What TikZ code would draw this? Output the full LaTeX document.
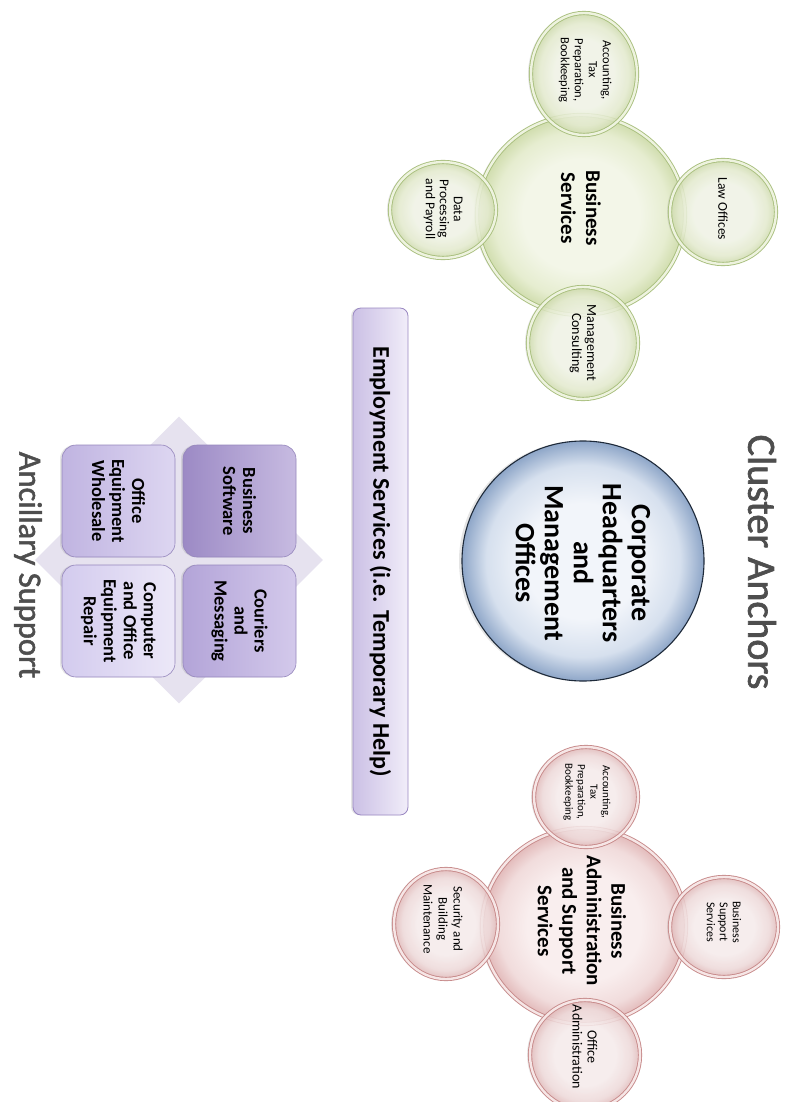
\documentclass[tikz,border=0pt]{standalone}
\usepackage{fontspec}
\setmainfont{Carlito}
\newfontfamily\titlefont[FakeBold=1.6]{Carlito}
\usetikzlibrary{shapes.geometric,shadows}
\definecolor{grnB}{HTML}{A9BF7E}
\definecolor{grnBand}{HTML}{EEF3DF}
\definecolor{grnIn}{HTML}{F3F6E8}
\definecolor{grnMid}{HTML}{E6EDD0}
\definecolor{grnOut}{HTML}{CFDCAC}
\definecolor{redB}{HTML}{C78A8A}
\definecolor{redBand}{HTML}{F6E6E6}
\definecolor{redIn}{HTML}{F9EEEE}
\definecolor{redMid}{HTML}{F1DCDC}
\definecolor{redOut}{HTML}{E2B9B9}
\definecolor{bluB}{HTML}{1E2A3A}
\definecolor{bluIn}{HTML}{F2F5FA}
\definecolor{bluMid}{HTML}{D6E0EE}
\definecolor{bluOut}{HTML}{8EA6C8}
\definecolor{titleC}{HTML}{4E4E4E}
\definecolor{diaC}{HTML}{E6E2EF}
\definecolor{sqB}{HTML}{9586BC}
\definecolor{barB}{HTML}{9A88C2}
\definecolor{sqAl}{HTML}{9C8AC5}\definecolor{sqAr}{HTML}{C7BBE1}
\definecolor{sqBl}{HTML}{B3A4D8}\definecolor{sqBr}{HTML}{D3C9EB}
\definecolor{sqCl}{HTML}{C0B4E1}\definecolor{sqCr}{HTML}{DDD6F1}
\definecolor{sqDl}{HTML}{D3CBEE}\definecolor{sqDr}{HTML}{ECE8F8}
\definecolor{barL}{HTML}{CBC0E5}\definecolor{barR}{HTML}{F1EDF9}
\pgfdeclareradialshading{glassG}{\pgfpoint{0bp}{0bp}}{color(0bp)=(grnIn); color(14bp)=(grnIn); color(21bp)=(grnMid); color(25bp)=(grnOut); color(50bp)=(grnOut)}
\pgfdeclareradialshading{glassR}{\pgfpoint{0bp}{0bp}}{color(0bp)=(redIn); color(14bp)=(redIn); color(21bp)=(redMid); color(25bp)=(redOut); color(50bp)=(redOut)}
\pgfdeclareradialshading{glassB}{\pgfpoint{0bp}{0bp}}{color(0bp)=(bluIn); color(12bp)=(bluIn); color(20bp)=(bluMid); color(25bp)=(bluOut); color(50bp)=(bluOut)}
\begin{document}
\begin{tikzpicture}[x=1pt,y=-1pt,
  ring/.style={ellipse, inner sep=0pt, line width=0.9pt, double distance=2.4pt},
  gmain/.style={ring, draw=grnB, double=grnBand, shading=glassG,
     drop shadow={shadow xshift=-3pt, shadow yshift=0pt, opacity=0.18}},
  gsat/.style={gmain, fill opacity=0.85},
  rmain/.style={ring, draw=redB, double=redBand, shading=glassR,
     drop shadow={shadow xshift=-3pt, shadow yshift=0pt, opacity=0.18}},
  rsat/.style={rmain, fill opacity=0.85},
  txt/.style={rotate=-90, align=center, inner sep=0pt, text=black},
  sqbox/.style={rectangle, rounded corners=14pt, inner sep=0pt, minimum width=113pt,
     minimum height=112pt, draw=sqB, line width=0.6pt,
     drop shadow={shadow xshift=-2pt, shadow yshift=0pt, opacity=0.2}},
  sqtxt/.style={txt, font=\bfseries\fontsize{18.5}{20}\selectfont},
  title/.style={rotate=-90, inner sep=0pt, text=titleC}
]
\useasboundingbox (0,0) rectangle (788,1102);
\fill[white] (0,0) rectangle (788,1102);

% titles
\node[title, font=\titlefont\fontsize{40}{44}\selectfont] (tca) at (762,562) {Cluster Anchors};
\node[title, font=\titlefont\fontsize{32.5}{36}\selectfont] (tas) at (28,565) {Ancillary Support};

% ancillary diamond and squares
\node[diamond, aspect=1, inner sep=0pt, minimum width=288pt, minimum height=287pt, fill=diaC] (dia) at (179,560) {};
\node[sqbox, left color=sqAl, right color=sqAr] (bsw) at (239.5,501) {};
\node[sqbox, left color=sqBl, right color=sqBr] (cour) at (239.5,621) {};
\node[sqbox, left color=sqCl, right color=sqCr] (oew) at (118.5,501) {};
\node[sqbox, left color=sqDl, right color=sqDr] (coer) at (118.5,621) {};
\node[sqtxt] (tbsw) at (bsw) {Business\\Software};
\node[sqtxt] (tcour) at (cour) {Couriers\\and\\Messaging};
\node[sqtxt] (toew) at (oew) {Office\\Equipment\\Wholesale};
\node[sqtxt] (tcoer) at (coer) {Computer\\and Office\\Equipment\\Repair};

% employment bar
\node[rectangle, rounded corners=8pt, inner sep=0pt, minimum width=55pt, minimum height=507pt,
  draw=barB, line width=0.8pt, left color=barL, right color=barR,
  drop shadow={shadow xshift=-2pt, shadow yshift=0pt, opacity=0.2}] (emp) at (380.5,561.5) {};
\node[txt, font=\bfseries\fontsize{24}{26}\selectfont] (temp) at (emp) {Employment Services (i.e. Temporary Help)};

% corporate HQ
\node[ellipse, inner sep=0pt, minimum width=242pt, minimum height=240pt, draw=bluB, line width=1.1pt,
  shading=glassB,
  drop shadow={shadow xshift=-3pt, shadow yshift=0pt, opacity=0.2}] (corp) at (583,561) {};
\node[txt, font=\bfseries\fontsize{28}{29}\selectfont] (tcorp) at (583,563) {Corporate\\Headquarters\\and\\Management\\Offices};

% business services cluster
\node[gmain, minimum width=208pt, minimum height=200pt] (bs) at (581,215) {};
\node[gsat, minimum width=106pt, minimum height=122pt] (gacc) at (584,74) {};
\node[gsat, minimum width=106pt, minimum height=104pt] (law) at (723,212) {};
\node[gsat, minimum width=106pt, minimum height=96pt] (data) at (443,210) {};
\node[gsat, minimum width=110pt, minimum height=112pt] (mgmt) at (583,343) {};
\node[txt, font=\bfseries\fontsize{21}{25}\selectfont] (tbs) at (581,208) {Business\\Services};
\node[txt, font=\fontsize{12.5}{14}\selectfont] (tgacc) at (585,70) {Accounting,\\Tax\\Preparation,\\Bookkeeping};
\node[txt, font=\fontsize{13.5}{15}\selectfont] (tlaw) at (723,209) {Law Offices};
\node[txt, font=\fontsize{13.5}{14}\selectfont] (tdata) at (443,209) {Data\\Processing\\and Payroll};
\node[txt, font=\fontsize{14}{15}\selectfont] (tmgmt) at (583,343) {Management\\Consulting};

% business administration cluster
\node[rmain, minimum width=204pt, minimum height=196pt] (bas) at (584,926) {};
\node[rsat, minimum width=104pt, minimum height=100pt] (racc) at (586,797) {};
\node[rsat, minimum width=108pt, minimum height=100pt] (bss) at (724,927) {};
\node[rsat, minimum width=104pt, minimum height=110pt] (sec) at (446,924) {};
\node[rsat, minimum width=110pt, minimum height=110pt] (oadm) at (585,1055) {};
\node[txt, font=\bfseries\fontsize{21}{24.5}\selectfont] (tbas) at (582,921) {Business\\Administration\\and Support\\Services};
\node[txt, font=\fontsize{11}{12.5}\selectfont] (tracc) at (587,792) {Accounting,\\Tax\\Preparation,\\Bookkeeping};
\node[txt, font=\fontsize{12}{13}\selectfont] (tbss) at (724,922) {Business\\Support\\Services};
\node[txt, font=\fontsize{13}{15}\selectfont] (tsec) at (443,919) {Security and\\Building\\Maintenance};
\node[txt, font=\fontsize{14}{15}\selectfont] (toadm) at (585,1047) {Office\\Administration};
\end{tikzpicture}
\end{document}
